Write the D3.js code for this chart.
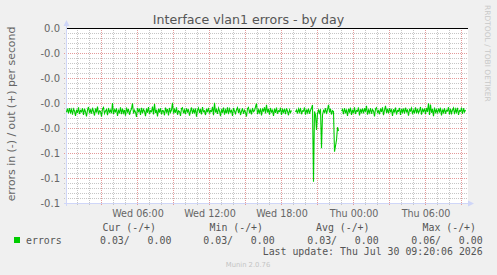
<!DOCTYPE html>
<html><head><meta charset="utf-8">
<script src="https://cdn.jsdelivr.net/npm/d3@7/dist/d3.min.js"></script>
<style>
html,body{margin:0;padding:0;background:#F0F0F0;}
svg{display:block;}
</style></head>
<body>
<script>
// ---- data (errors per second, 5-minute samples starting Wed 00:05) ----
const title = "Interface vlan1 errors - by day";
const yAxisLabel = "errors in (-) / out (+) per second";
const seriesName = "errors";
const lastUpdate = "Last update: Thu Jul 30 09:20:06 2026";
const footer = "Munin 2.0.76";
const watermark = "RRDTOOL / TOBI OETIKER";
const legendHeaders = ["Cur (-/+)", "Min (-/+)", "Avg (-/+)", "Max (-/+)"];
const yTickValues = [0, -0.01, -0.02, -0.03, -0.04, -0.05, -0.06, -0.07];
const yTickLabels = ["0.0", "-0.0", "-0.0", "-0.0", "-0.0", "-0.1", "-0.1", "-0.1"];
const xTickLabelFormat = "%a %H:%M";
const outErrorsValue = 0;
const inErrors = [
0.0335,0.0320,0.0340,0.0318,0.0336,0.0324,0.0345,0.0322,0.0330,0.0350,
0.0325,0.0338,0.0315,0.0342,0.0328,0.0333,0.0319,0.0346,0.0321,0.0334,
0.0352,0.0326,0.0314,0.0339,0.0323,0.0341,0.0317,0.0332,0.0348,0.0320,
0.0336,0.0312,0.0344,0.0329,0.0331,0.0353,0.0322,0.0316,0.0340,0.0330,
0.0324,0.0347,0.0318,0.0335,0.0327,0.0339,0.0298,0.0342,0.0325,0.0333,
0.0319,0.0350,0.0328,0.0336,0.0315,0.0343,0.0320,0.0338,0.0326,0.0349,
0.0316,0.0334,0.0322,0.0345,0.0330,0.0321,0.0299,0.0340,0.0327,0.0335,
0.0354,0.0318,0.0332,0.0324,0.0346,0.0317,0.0339,0.0323,0.0331,0.0351,
0.0320,0.0337,0.0314,0.0341,0.0329,0.0333,0.0312,0.0344,0.0301,0.0338,
0.0325,0.0352,0.0321,0.0336,0.0319,0.0343,0.0328,0.0330,0.0347,0.0316,
0.0334,0.0322,0.0348,0.0318,0.0335,0.0326,0.0297,0.0340,0.0324,0.0337,
0.0315,0.0345,0.0329,0.0332,0.0350,0.0320,0.0317,0.0339,0.0326,0.0342,
0.0319,0.0334,0.0323,0.0349,0.0331,0.0316,0.0341,0.0325,0.0336,0.0320,
0.0353,0.0327,0.0318,0.0338,0.0322,0.0344,0.0314,0.0333,0.0329,0.0346,
0.0321,0.0335,0.0317,0.0340,0.0328,0.0332,0.0313,0.0347,0.0297,0.0336,
0.0324,0.0342,0.0319,0.0330,0.0351,0.0323,0.0337,0.0316,0.0345,0.0326,
0.0339,0.0315,0.0343,0.0322,0.0334,0.0328,0.0350,0.0318,0.0331,0.0340,
0.0325,0.0317,0.0338,0.0320,0.0346,0.0332,0.0319,0.0341,0.0327,0.0335,
0.0352,0.0321,0.0316,0.0339,0.0324,0.0344,0.0318,0.0333,0.0329,0.0314,
0.0300,0.0342,0.0326,0.0337,0.0319,0.0348,0.0323,0.0330,0.0315,0.0340,
0.0305,0.0336,0.0322,0.0345,0.0318,0.0334,0.0327,0.0350,0.0320,0.0338,
0.0316,0.0341,0.0329,0.0332,0.0317,0.0346,0.0324,0.0335,0.0321,0.0343,
0.0319,0.0331,0.0347,0.0325,0.0336,0.0328,null,null,null,0.0334,
0.0326,0.0340,0.0322,0.0335,0.0318,0.0343,0.0329,0.0331,0.0316,0.0345,
0.0324,0.0337,0.0320,0.0341,0.0327,0.0319,0.0306,0.0613,0.0332,0.0345,
0.0406,0.0340,0.0326,0.0338,0.0323,0.0479,0.0346,0.0328,0.0335,0.0319,
0.0342,0.0325,0.0305,0.0336,0.0321,0.0344,0.0329,0.0332,0.0493,0.0470,
0.0446,0.0395,0.0410,null,null,0.0330,0.0324,0.0343,0.0318,0.0336,
0.0327,0.0350,0.0321,0.0334,0.0317,0.0346,0.0325,0.0339,0.0315,0.0342,
0.0328,0.0331,0.0316,0.0348,0.0323,0.0335,0.0320,0.0340,0.0319,0.0333,
0.0309,0.0345,0.0326,0.0337,0.0318,0.0341,0.0324,0.0330,0.0352,0.0322,
0.0317,0.0336,0.0329,0.0343,0.0320,0.0334,0.0315,0.0347,0.0327,0.0309,
0.0338,0.0321,0.0340,0.0319,0.0332,0.0325,0.0350,0.0323,0.0336,0.0316,
0.0344,0.0328,0.0331,0.0318,0.0346,0.0322,0.0335,0.0320,0.0341,0.0317,
0.0333,0.0326,0.0349,0.0324,0.0330,0.0319,0.0343,0.0327,0.0336,0.0315,
0.0340,0.0321,0.0338,0.0329,0.0314,0.0345,0.0323,0.0332,0.0320,0.0342,
0.0318,0.0334,0.0299,0.0346,0.0304,0.0337,0.0322,0.0351,0.0316,0.0335,
0.0325,0.0340,0.0320,0.0333,0.0317,0.0348,0.0324,0.0336,0.0319,0.0341,
0.0327,0.0330,0.0315,0.0344,0.0321,0.0339,0.0326,0.0318,0.0343,0.0323,
0.0335,0.0317,0.0346,0.0328,0.0331,0.0320,0.0342,0.0319,0.0334,0.0326
];
const rangeStart = Date.UTC(2026, 6, 29, 0, 0);
const firstSample = Date.UTC(2026, 6, 29, 0, 5);
const rangeEnd = Date.UTC(2026, 6, 30, 9, 20);
const stepMs = 5 * 60 * 1000;

// ---- layout ----
const W = 497, H = 275;
const sans = '"DejaVu Sans", sans-serif';
const mono = '"DejaVu Sans Mono", monospace';
const svg = d3.select("body").append("svg").attr("width", W).attr("height", H)
  .style("font-family", sans);
svg.append("rect").attr("width", W).attr("height", H).attr("fill", "#F0F0F0");

const x = d3.scaleUtc().domain([new Date(rangeStart), new Date(rangeEnd)]).range([65.5, 465.5]);
const y = d3.scaleLinear().domain([-0.07, 0]).range([203.5, 28.5]);
const plotL = 67, plotR = 467, plotT = 28, plotB = 203;

svg.append("rect").attr("x", plotL).attr("y", plotT).attr("width", plotR - plotL + 1).attr("height", plotB - plotT + 1).attr("fill", "#FFFFFF");

const gridMinor = "#C6C6C6", gridMajor = "#E49A9A", axisCol = "#CFD6F8", font = "#666666";
const snap = v => Math.round(v - 0.5) + 0.5;

// horizontal minor grid (every 0.002)
const yMinor = d3.range(0, 36).map(i => -i * 0.002).filter(v => Math.round(v * 1000) % 10 !== 0);
svg.append("g").selectAll("line").data(yMinor).join("line")
  .attr("x1", 64).attr("x2", plotR + 1)
  .attr("y1", d => snap(y(d))).attr("y2", d => snap(y(d)))
  .attr("stroke", gridMinor).attr("stroke-dasharray", "1,1");
// vertical minor grid (every hour)
const hours = d3.utcHour.every(1).range(new Date(rangeStart + 1), new Date(rangeEnd));
const minorHours = hours.filter(d => d.getUTCHours() % 3 !== 0);
svg.append("g").selectAll("line").data(minorHours).join("line")
  .attr("x1", d => snap(x(d))).attr("x2", d => snap(x(d)))
  .attr("y1", plotT).attr("y2", plotB + 3)
  .attr("stroke", gridMinor).attr("stroke-dasharray", "1,1");
// major grid
const yMajor = yTickValues.filter(v => v !== 0 && v !== -0.07);
svg.append("g").selectAll("line").data(yMajor).join("line")
  .attr("x1", 64).attr("x2", plotR + 1)
  .attr("y1", d => snap(y(d))).attr("y2", d => snap(y(d)))
  .attr("stroke", gridMajor).attr("stroke-dasharray", "1,1");
const majorHours = hours.filter(d => d.getUTCHours() % 3 === 0);
svg.append("g").selectAll("line").data(majorHours).join("line")
  .attr("x1", d => snap(x(d))).attr("x2", d => snap(x(d)))
  .attr("y1", plotT).attr("y2", plotB + 3)
  .attr("stroke", gridMajor).attr("stroke-dasharray", "1,1");

// axes
svg.append("line").attr("x1", 66.5).attr("x2", 66.5).attr("y1", 24).attr("y2", 206).attr("stroke", axisCol);
svg.append("path").attr("d", "M63.5,26 L69.5,26 L66.5,20 Z").attr("fill", axisCol);
svg.append("line").attr("x1", 64).attr("x2", 470).attr("y1", 203.5).attr("y2", 203.5).attr("stroke", axisCol);
svg.append("path").attr("d", "M468,200.5 L468,206.5 L474,203.5 Z").attr("fill", axisCol);

// y tick labels
svg.append("g").selectAll("text").data(yTickValues).join("text")
  .attr("x", 60).attr("y", d => y(d)).attr("dy", "0.36em")
  .attr("text-anchor", "end").attr("font-size", "10px").attr("fill", font)
  .text((d, i) => yTickLabels[i]);
// x tick labels
const fmtX = d3.utcFormat(xTickLabelFormat);
const labelHours = hours.filter(d => d.getUTCHours() % 6 === 0);
svg.append("g").selectAll("text").data(labelHours).join("text")
  .attr("x", d => x(d) + 0.5).attr("y", 216.5)
  .attr("text-anchor", "middle").attr("font-size", "9.6px").attr("fill", font)
  .text(d => fmtX(d));

// series
const pts = inErrors.map((v, i) => ({ t: new Date(firstSample + i * stepMs), v: v }));
const line = d3.line().defined(d => d.v !== null).x(d => x(d.t)).y(d => y(-d.v));
svg.append("path").datum(pts).attr("d", line).attr("fill", "none")
  .attr("stroke", "#00CC00").attr("stroke-width", 1.1).attr("stroke-linejoin", "miter");
// out series (constant zero)
svg.append("line").attr("x1", plotL).attr("x2", plotR + 1)
  .attr("y1", y(outErrorsValue)).attr("y2", y(outErrorsValue)).attr("stroke", "#000000");

// titles
svg.append("text").attr("x", 248.5).attr("y", 23.5).attr("text-anchor", "middle")
  .attr("font-size", "12.6px").attr("fill", "#555").text(title);
svg.append("text").attr("transform", "translate(15,114) rotate(-90)").attr("text-anchor", "middle")
  .attr("font-size", "10.9px").attr("fill", font).text(yAxisLabel);
svg.append("text").attr("transform", "translate(485,5) rotate(90)").attr("text-anchor", "start")
  .attr("font-size", "7.5px").attr("fill", "#C8C8C8").text(watermark);

// legend
const hdrX = [102.5, 209.5, 316, 422.5];
const legend = svg.append("g").style("font-family", mono).attr("font-size", "9.9px").attr("fill", "#555");
legend.selectAll("text.h").data(legendHeaders).join("text").attr("class", "h")
  .attr("x", (d, i) => hdrX[i]).attr("y", 230.8)
  .attr("xml:space", "preserve").style("white-space", "pre").text(d => d);
svg.append("rect").attr("x", 14).attr("y", 237).attr("width", 6).attr("height", 6).attr("fill", "#00CC00");
legend.append("text").attr("x", 26).attr("y", 243.5).text(seriesName);
const valid = inErrors.filter(v => v !== null);
const stats = [valid[valid.length - 1], d3.min(valid), d3.mean(valid), d3.max(valid)];
const f2 = d3.format(".2f");
const valX = [100, 203.3, 307.3, 411.3];
legend.selectAll("text.v").data(stats).join("text").attr("class", "v")
  .attr("x", (d, i) => valX[i]).attr("y", 243.5)
  .attr("xml:space", "preserve").style("white-space", "pre")
  .text(d => f2(d) + "/" + f2(outErrorsValue).padStart(7, " "));
legend.append("text").attr("x", 482.7).attr("y", 255.3).attr("text-anchor", "end")
  .attr("xml:space", "preserve").style("white-space", "pre").text(lastUpdate);
svg.append("text").attr("x", 248).attr("y", 266.5).attr("text-anchor", "middle")
  .attr("font-size", "6.8px").attr("fill", "#C4C4C4").text(footer);
</script>
</body></html>
